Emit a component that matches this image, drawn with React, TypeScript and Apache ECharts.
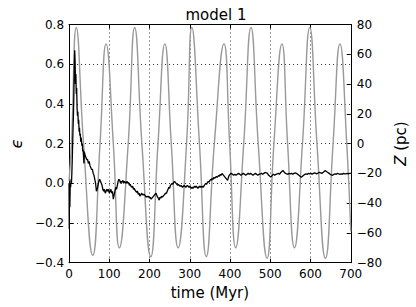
import React, { useEffect, useRef } from "react";
import * as echarts from "echarts";

const titleText = "model 1";
const xTicks = [0, 100, 200, 300, 400, 500, 600, 700];
const epsTicks = [-0.4, -0.2, 0.0, 0.2, 0.4, 0.6, 0.8];
const zTicks = [-80, -60, -40, -20, 0, 20, 40, 60, 80];

// gray curve: vertical position Z (pc), read at extrema and zero crossings
const zTime = [0, 6, 18, 36, 59, 77, 92, 110, 125, 147, 163, 181, 203, 221, 238, 254, 271, 292, 305, 324, 341, 361, 385, 399, 414, 434, 452, 470, 492, 509, 529, 543, 560, 580, 598, 616, 637, 656, 673, 690, 700];
const zValue = [-25, 0, 78, 0, -75, 0, 67, 0, -70, 0, 78, 0, -76, 0, 67, 0, -70, 0, 78, 0, -76, 0, 67, 0, -70, 0, 78, 0, -77, 0, 67, 0, -70, 0, 78, 0, -77, 0, 67, 0, -59];

// black curve: epsilon
const epsTime = [
  0, 0.5, 1, 2, 3, 4, 5, 6, 7, 8, 9, 10, 11, 12, 13, 14, 15, 16, 17, 18, 19, 20, 21, 22, 23, 24, 25, 26, 27, 28, 29, 30, 32, 33, 34, 35, 36, 37, 38,
  40, 42, 44, 46, 48, 50, 52, 54, 56, 58, 60, 62, 64, 66, 68, 70, 72, 74, 76, 78, 80, 82, 84, 86, 88, 90, 92, 94, 96, 98, 100,
  102, 104, 106, 108, 110, 112, 114, 116, 118, 120, 122, 124, 126, 128, 130, 132, 134, 136, 138, 140, 142, 144, 146, 148, 150,
  152, 154, 156, 158, 160, 162, 164, 166, 168, 170, 172, 174, 176, 178, 180, 182, 184, 186, 188, 190, 192, 194, 196, 198, 200,
  202, 204, 206, 208, 210, 212, 214, 216, 218, 220, 222, 224, 226, 228, 230, 232, 234, 236, 238, 240, 242, 244, 246, 248, 250,
  252, 254, 256, 258, 260, 262, 264, 266, 268, 270, 272, 274, 276, 278, 280, 282, 284, 286, 288, 290, 292, 294, 296, 298, 300,
  302, 304, 306, 308, 310, 312, 314, 316, 318, 320, 322, 324, 326, 328, 330, 332, 334, 336, 338, 340, 342, 344, 346, 348, 350,
  352, 354, 356, 358, 360, 362, 364, 366, 368, 370, 372, 374, 376, 378, 380, 382, 384, 386, 388, 390, 392, 394, 396, 398, 400,
  403, 406, 409, 412, 415, 418, 421, 424, 427, 430, 433, 436, 439, 442, 445, 448, 451, 454, 457, 460, 463, 466, 469, 472, 475,
  478, 481, 484, 487, 490, 493, 496, 499, 502, 505, 508, 511, 514, 517, 520, 523, 526, 529, 532, 535, 538, 541, 544, 547, 550,
  553, 556, 559, 562, 565, 568, 571, 574, 577, 580, 583, 586, 589, 592, 595, 598, 601, 604, 607, 610, 613, 616, 619, 622, 625,
  628, 631, 634, 637, 640, 643, 646, 649, 652, 655, 658, 661, 664, 667, 670, 673, 676, 679, 682, 685, 688, 691, 694, 697, 700,
];
const epsValue = [
  0.0, -0.23, -0.05, -0.12, 0.0, -0.02, 0.02, 0.0, 0.05, 0.12, 0.2, 0.28, 0.35, 0.45, 0.58, 0.67, 0.62, 0.5, 0.55, 0.45, 0.48, 0.38, 0.34, 0.36, 0.3, 0.32, 0.26, 0.28, 0.24, 0.25, 0.21, 0.23, 0.19, 0.2, 0.16, 0.17, 0.17, 0.1, 0.16,
  0.14, 0.13, 0.12, 0.12, 0.1, 0.11, 0.09, 0.08, 0.07, 0.07, 0.05, 0.04, 0.02, 0.0, -0.04, -0.03, -0.01, 0.01, 0.02, 0.01, 0.0, -0.01, -0.03, -0.04, -0.03, -0.05, -0.04, -0.03, -0.04, -0.03, -0.05,
  -0.04, -0.03, -0.05, -0.04, -0.08, -0.06, -0.04, -0.02, -0.03, -0.01, 0.01, 0.02, 0.015, 0.0, 0.01, 0.005, 0.015, 0.0, 0.01, 0.005, 0.0, 0.01, 0.0, 0.005, -0.01,
  -0.005, -0.015, -0.02, -0.015, -0.03, -0.025, -0.035, -0.04, -0.045, -0.04, -0.055, -0.05, -0.065, -0.06, -0.05, -0.055, -0.06, -0.055, -0.06, -0.065, -0.07, -0.065, -0.07, -0.065, -0.075,
  -0.07, -0.08, -0.075, -0.07, -0.065, -0.06, -0.055, -0.05, -0.06, -0.07, -0.075, -0.085, -0.07, -0.075, -0.065, -0.07, -0.065, -0.06, -0.055, -0.05, -0.05, -0.04, -0.03, -0.02, -0.025,
  -0.01, -0.005, 0.0, -0.005, 0.005, 0.01, 0.005, 0.0, -0.005, -0.01, -0.005, -0.01, -0.015, -0.01, -0.015, -0.02, -0.015, -0.01, -0.015, -0.02, -0.015, -0.01, -0.015, -0.02, -0.015,
  -0.02, -0.025, -0.02, -0.025, -0.02, -0.015, -0.02, -0.015, -0.02, -0.025, -0.02, -0.015, -0.02, -0.015, -0.02, -0.015, -0.02, -0.01, -0.005, 0.0, -0.005, 0.005, 0.01, 0.005, 0.015,
  0.02, 0.015, 0.025, 0.02, 0.03, 0.025, 0.03, 0.035, 0.03, 0.035, 0.04, 0.035, 0.045, 0.04, 0.05, 0.045, 0.04, 0.035, 0.03, 0.025, 0.02, 0.015, 0.03, 0.04, 0.045,
  0.05, 0.045, 0.04, 0.045, 0.04, 0.045, 0.05, 0.045, 0.04, 0.045, 0.05, 0.045, 0.04, 0.045, 0.05, 0.045, 0.05, 0.045, 0.04, 0.045, 0.05, 0.045, 0.04, 0.045, 0.047,
  0.05, 0.045, 0.05, 0.055, 0.053, 0.05, 0.04, 0.035, 0.033, 0.04, 0.045, 0.04, 0.045, 0.047, 0.05, 0.045, 0.055, 0.06, 0.064, 0.055, 0.05, 0.047, 0.045, 0.05, 0.048,
  0.05, 0.045, 0.05, 0.052, 0.05, 0.045, 0.04, 0.035, 0.03, 0.035, 0.04, 0.045, 0.047, 0.045, 0.05, 0.048, 0.05, 0.045, 0.05, 0.052, 0.05, 0.048, 0.052, 0.055, 0.053,
  0.05, 0.055, 0.06, 0.064, 0.058, 0.055, 0.05, 0.045, 0.042, 0.04, 0.045, 0.047, 0.045, 0.05, 0.048, 0.045, 0.047, 0.045, 0.05, 0.048, 0.047, 0.05, 0.048, 0.05, 0.05,
];

const FONT = "DejaVu Sans";

const fmtMinus = (s: string) => s.replace("-", "\u2212");

export default function App() {
  const ref = useRef<HTMLDivElement>(null);

  useEffect(() => {
    if (!ref.current) return;
    const chart = echarts.init(ref.current, undefined, { renderer: "svg" });
    const epsData = epsTime.map((t, i) => [t, epsValue[i]]);
    const zData = zTime.map((t, i) => [t, zValue[i]]);
    const axisLineStyle = { color: "#000", width: 1 };
    chart.setOption({
      animation: false,
      backgroundColor: "#fff",
      title: {
        text: titleText,
        left: 211,
        top: 2,
        textAlign: "center",
        textStyle: { fontFamily: FONT, fontSize: 15, fontWeight: "normal", color: "#000" },
      },
      grid: { left: 67.5, right: 60, top: 24.5, bottom: 44.3, containLabel: false },
      xAxis: [
        {
          type: "value",
          min: xTicks[0],
          max: xTicks[xTicks.length - 1],
          interval: 100,
          position: "bottom",
          name: "time (Myr)",
          nameLocation: "middle",
          nameGap: 23,
          nameTextStyle: { fontFamily: FONT, fontSize: 15, color: "#000" },
          axisLine: { show: true, onZero: false, lineStyle: axisLineStyle },
          axisTick: { show: true, inside: true, length: 4, lineStyle: { color: "#000" } },
          axisLabel: { fontFamily: FONT, fontSize: 12, color: "#000", margin: 5 },
          splitLine: { show: true, lineStyle: { color: "#333", type: [1, 3], width: 1 } },
        },
        {
          type: "value",
          min: xTicks[0],
          max: xTicks[xTicks.length - 1],
          interval: 100,
          position: "top",
          axisLine: { show: true, onZero: false, lineStyle: axisLineStyle },
          axisTick: { show: true, inside: true, length: 4, lineStyle: { color: "#000" } },
          axisLabel: { show: false },
          splitLine: { show: false },
        },
      ],
      yAxis: [
        {
          type: "value",
          min: epsTicks[0],
          max: epsTicks[epsTicks.length - 1],
          interval: 0.2,
          position: "left",
          name: "\u03f5",
          nameLocation: "middle",
          nameRotate: 90,
          nameGap: 44,
          nameTextStyle: { fontFamily: FONT, fontSize: 16, fontStyle: "italic", color: "#000" },
          axisLine: { show: true, onZero: false, lineStyle: axisLineStyle },
          axisTick: { show: true, inside: true, length: 4, lineStyle: { color: "#000" } },
          axisLabel: {
            fontFamily: FONT,
            fontSize: 12,
            color: "#000",
            margin: 5,
            formatter: (v: number) => (Math.abs(v) < 1e-9 ? "0.0" : fmtMinus(v.toFixed(1))),
          },
          splitLine: { show: true, lineStyle: { color: "#333", type: [1, 3], width: 1 } },
        },
        {
          type: "value",
          min: zTicks[0],
          max: zTicks[zTicks.length - 1],
          interval: 20,
          position: "right",
          name: "{i|Z} (pc)",
          nameLocation: "middle",
          nameRotate: 90,
          nameGap: 33,
          nameTextStyle: {
            fontFamily: FONT,
            fontSize: 15,
            color: "#000",
            rich: { i: { fontFamily: FONT, fontSize: 15, fontStyle: "italic", color: "#000" } },
          },
          axisLine: { show: true, onZero: false, lineStyle: axisLineStyle },
          axisTick: { show: true, inside: true, length: 4, lineStyle: { color: "#000" } },
          axisLabel: {
            fontFamily: FONT,
            fontSize: 12,
            color: "#000",
            margin: 6,
            formatter: (v: number) => fmtMinus(String(Math.round(v))),
          },
          splitLine: { show: false },
        },
      ],
      series: [
        {
          type: "line",
          name: "Z",
          xAxisIndex: 0,
          yAxisIndex: 1,
          data: zData,
          smooth: 0.5,
          showSymbol: false,
          symbol: "none",
          lineStyle: { color: "#999", width: 1.4 },
          z: 2,
        },
        {
          type: "line",
          name: "eps",
          xAxisIndex: 0,
          yAxisIndex: 0,
          data: epsData,
          showSymbol: false,
          symbol: "none",
          lineStyle: { color: "#000", width: 1.3 },
          z: 3,
        },
      ],
    });
    return () => chart.dispose();
  }, []);

  return (
    <div
      ref={ref}
      style={{ position: "absolute", left: 0, top: 0, width: 416, height: 307, background: "#fff" }}
    />
  );
}
